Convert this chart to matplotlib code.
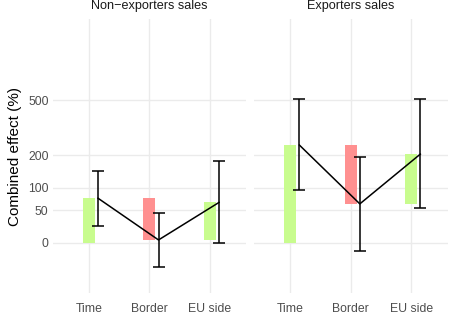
import numpy as np
import matplotlib
matplotlib.use('Agg')
import matplotlib.pyplot as plt

plt.rcParams['font.family'] = ['Liberation Sans', 'DejaVu Sans']

# --- datos (efecto combinado, %) ---
categorias = ['Time', 'Border', 'EU side']
paneles = ['Non\u2212exporters sales', 'Exporters sales']
colores_barra = ['#c8fc8e', '#ff9090', '#c8fc8e']

# barras flotantes: inicio y fin de cada tramo
barra_inicio = [[0, 75, 3.5], [0, 242, 62]]
barra_fin = [[75, 3.5, 66], [242, 62, 205]]

# estimación puntual e intervalos
punto = [[75, 3.5, 66], [242, 63, 205]]
ic_bajo = [[23, -26, 0], [95, -10, 54]]
ic_alto = [[148, 45, 180], [510, 193, 510]]

y_ticks = [0, 50, 100, 200, 500]


def fwd(v):
    return np.log1p(np.asarray(v, dtype=float) / 100.0)


def inv(v):
    return 100.0 * np.expm1(v)


fig = plt.figure(figsize=(4.53, 3.15), dpi=100)
pos_x = [0.1163, 0.5607]
ancho = 0.4272
y0, alto = 0.0698, 0.8699

xs = np.arange(len(categorias))
for i, nombre in enumerate(paneles):
    ax = fig.add_axes([pos_x[i], y0, ancho, alto])
    ax.set_yscale('function', functions=(fwd, inv))
    ax.set_ylim(inv(-0.634), inv(2.817))
    ax.set_xlim(-0.6, len(categorias) - 0.4)

    for j in range(len(categorias)):
        b0, b1 = barra_inicio[i][j], barra_fin[i][j]
        ax.bar(xs[j], abs(b1 - b0), bottom=min(b0, b1), width=0.2,
               color=colores_barra[j], zorder=2)

    xp = xs + 0.15
    ax.plot(xp, punto[i], color='black', lw=1.1, zorder=3)
    p = np.array(punto[i], dtype=float)
    err = [p - np.array(ic_bajo[i]), np.array(ic_alto[i]) - p]
    ax.errorbar(xp, p, yerr=err, fmt='none', ecolor='black', elinewidth=1.1,
                capsize=4, capthick=1.1, zorder=3)

    ax.set_xticks(xs)
    ax.set_xticklabels(categorias)
    ax.set_yticks(y_ticks)
    ax.yaxis.set_minor_locator(matplotlib.ticker.NullLocator())
    if i == 0:
        ax.set_yticklabels([str(t) for t in y_ticks])
        ax.set_ylabel('Combined effect (%)', fontsize=11, color='black', labelpad=4)
    else:
        ax.set_yticklabels([])
    ax.tick_params(length=0, labelsize=8.8, labelcolor='#4d4d4d', pad=3)
    ax.tick_params(axis='x', pad=7)
    ax.grid(True, color='#ebebeb', lw=1.0, zorder=0)
    ax.set_axisbelow(True)
    for s in ax.spines.values():
        s.set_visible(False)
    ax.set_title(nombre, fontsize=9.1, color='#1a1a1a', pad=7)

fig.savefig('out.png', dpi=100)
